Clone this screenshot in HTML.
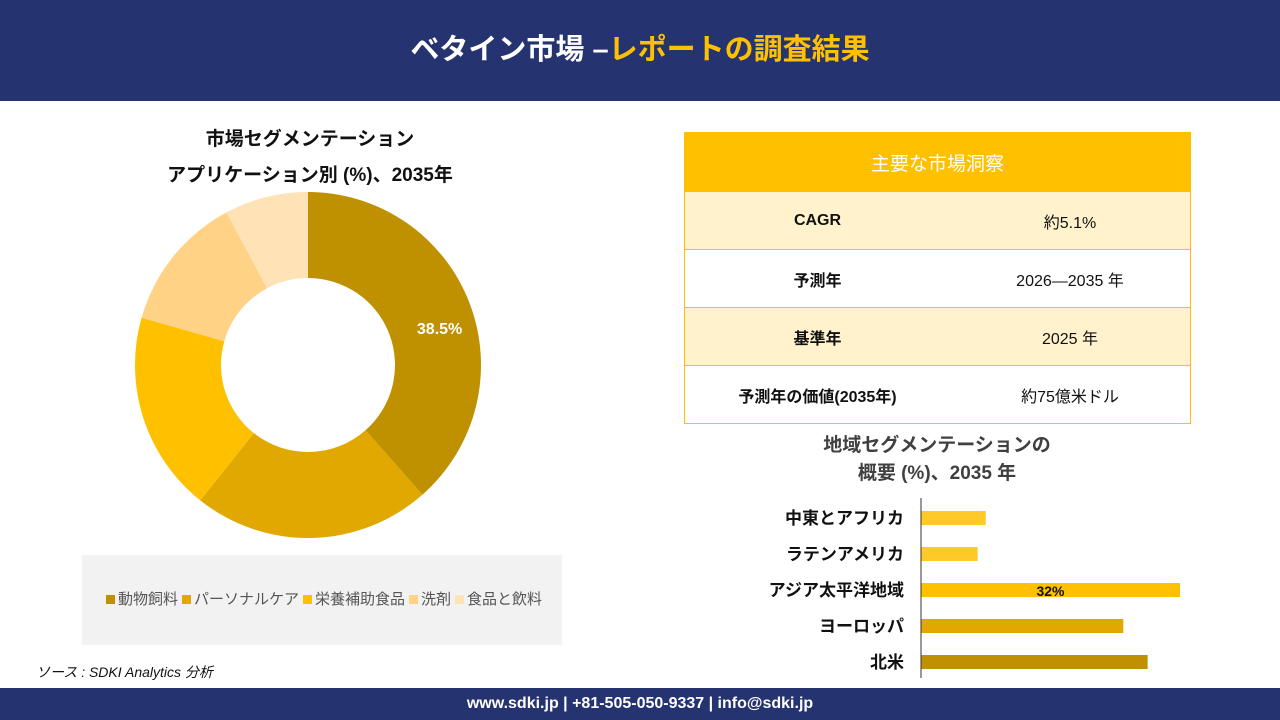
<!DOCTYPE html>
<html><head><meta charset="utf-8"><style>
body{margin:0;width:1280px;height:720px;position:relative;background:#fff;font-family:"Liberation Sans","Noto Sans CJK JP",sans-serif;overflow:hidden}
.abs{position:absolute}
#hdr{left:0;top:0;width:1280px;height:101px;background:#253370;color:#fff;font-size:29px;font-weight:bold;text-align:center;line-height:101px}
#ftr{left:0;top:688px;width:1280px;height:32px;background:#253370;color:#fff;font-size:16px;font-weight:bold;text-align:center;line-height:32px}
.t{font-weight:bold;font-size:19px;color:#111;text-align:center}
table{border-collapse:collapse;border:1px solid #FFC000}
td{border-top:1px solid #FFC000;height:57px;padding:0;font-size:16px;text-align:center;color:#111}
</style></head><body>
<div id="hdr" class="abs">ベタイン市場 –<span style="color:#FFC000">レポートの調査結果</span></div>
<div class="abs t" style="left:110px;top:122px;width:400px;line-height:36px">市場セグメンテーション<br>アプリケーション別 (%)、2035年</div>
<svg class="abs" style="left:0;top:0" width="640" height="688" id="donut"></svg>
<div class="abs" style="left:82px;top:555px;width:480px;height:90px;background:#f2f2f2;font-size:15px;color:#555;line-height:90px;text-align:center;white-space:nowrap" id="leg"></div>
<div class="abs" style="left:36px;top:662px;font-size:14px;font-style:italic;color:#111">ソース : SDKI Analytics 分析</div>
<table class="abs" style="left:684px;top:132px;width:507px">
<tr><td colspan="2" style="background:#FFC000;color:#fff;font-size:19px;height:58px">主要な市場洞察</td></tr>
<tr style="background:#FFF2CC"><td style="font-weight:bold;width:265px">CAGR</td><td>約5.1%</td></tr>
<tr><td style="font-weight:bold">予測年</td><td>2026—2035 年</td></tr>
<tr style="background:#FFF2CC"><td style="font-weight:bold">基準年</td><td>2025 年</td></tr>
<tr><td style="font-weight:bold">予測年の価値(2035年)</td><td>約75億米ドル</td></tr>
</table>
<div class="abs t" style="left:737px;top:432px;width:400px;line-height:28px;color:#404040">地域セグメンテーションの<br>概要 (%)、2035 年</div>
<svg class="abs" style="left:640px;top:490px" width="640" height="195" id="bars"></svg>
<div id="ftr" class="abs">www.sdki.jp | +81-505-050-9337 | info@sdki.jp</div>
<script>
const segs=["動物飼料","パーソナルケア","栄養補助食品","洗剤","食品と飲料"];
const shares=[38.5,22.2,18.7,12.8,7.8];
const segColors=["#BF9000","#E0A800","#FFC000","#FFD285","#FFE2B5"];
const regions=["中東とアフリカ","ラテンアメリカ","アジア太平洋地域","ヨーロッパ","北米"];
const regVals=[8,7,32,25,28];
const regColors=["#FFCA28","#FFCA28","#FFC000","#E0A800","#BF9000"];
const NS="http://www.w3.org/2000/svg";
const d=document.getElementById('donut');
const cx=308,cy=365,R=173,r=87;
let a0=0;const tot=shares.reduce((a,b)=>a+b,0);
function pt(a,rad){return [cx+rad*Math.sin(a),cy-rad*Math.cos(a)];}
shares.forEach((v,i)=>{
 const a1=a0+v/tot*2*Math.PI;const lg=(a1-a0)>Math.PI?1:0;
 const p1=pt(a0,R),p2=pt(a1,R),p3=pt(a1,r),p4=pt(a0,r);
 const p=document.createElementNS(NS,'path');
 p.setAttribute('d',`M${p1}A${R},${R} 0 ${lg} 1 ${p2}L${p3}A${r},${r} 0 ${lg} 0 ${p4}Z`);
 p.setAttribute('fill',segColors[i]);
 
 
 d.appendChild(p);
 if(i===0){const m=pt((a0+a1)/2,(R+r)/2);const t=document.createElementNS(NS,'text');
 t.setAttribute('x',m[0]+10);t.setAttribute('y',m[1]+15);t.setAttribute('fill','#fff');t.setAttribute('font-size','16');t.setAttribute('font-weight','bold');t.setAttribute('text-anchor','middle');t.textContent=v+'%';
 
 
 d.appendChild(t);}
 a0=a1;});
const leg=document.getElementById('leg');
leg.innerHTML=segs.map((s,i)=>`<span style="display:inline-block;width:9px;height:9px;background:${segColors[i]};margin:0 3px 0 4px"></span>${s}`).join('');
const b=document.getElementById('bars');
const x0=281,sc=259/32;
regions.forEach((n,i)=>{
 const y=28+i*36;
 const rc=document.createElementNS(NS,'rect');
 rc.setAttribute('x',x0);rc.setAttribute('y',y-7);rc.setAttribute('width',regVals[i]*sc);rc.setAttribute('height',14);rc.setAttribute('fill',regColors[i]);
 
 
 b.appendChild(rc);
 const t=document.createElementNS(NS,'text');
 t.setAttribute('x',x0-17);t.setAttribute('y',y+6);t.setAttribute('text-anchor','end');t.setAttribute('font-size','17');t.setAttribute('font-weight','bold');t.setAttribute('fill','#111');t.textContent=n;
 
 
 b.appendChild(t);
 if(i===2){const v=document.createElementNS(NS,'text');
 v.setAttribute('x',x0+regVals[i]*sc/2);v.setAttribute('y',y+6);v.setAttribute('text-anchor','middle');v.setAttribute('font-size','14');v.setAttribute('font-weight','bold');v.setAttribute('fill','#111');v.textContent=regVals[i]+'%';
 
 
 b.appendChild(v);}
});
const ax=document.createElementNS(NS,'line');
ax.setAttribute('x1',x0);ax.setAttribute('x2',x0);ax.setAttribute('y1',8);ax.setAttribute('y2',188);ax.setAttribute('stroke','#333');


b.appendChild(ax);
</script>
</body></html>
